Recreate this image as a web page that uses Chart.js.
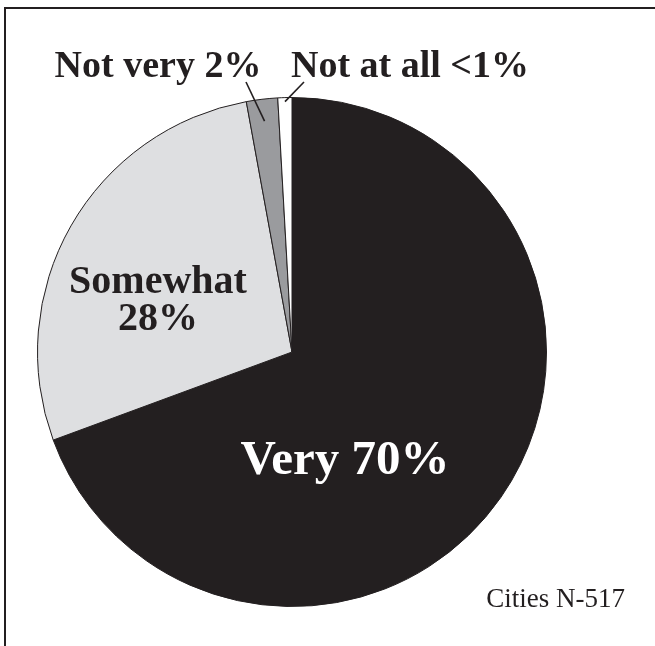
<!DOCTYPE html>
<html>
<head>
<meta charset="utf-8">
<script src="https://cdn.jsdelivr.net/npm/chart.js@4"></script>
<style>
  html, body { margin: 0; padding: 0; background: #fff; }
  canvas { display: block; }
</style>
</head>
<body>
<canvas id="cityPie" width="655" height="646"></canvas>
<script>
// Survey answers, clockwise from 12 o'clock
const answers = ['Very', 'Somewhat', 'Not very', 'Not at all'];
const shares = [70, 28, 2, 0.9];
const shareText = ['70%', '28%', '2%', '<1%'];
const sliceColors = ['#231f20', '#dedfe1', '#9a9b9e', '#ffffff'];
const sampleNote = 'Cities N-517';

const ink = '#231f20';
const boldSerif = 'bold {size}px "Liberation Serif", "Times New Roman", serif';

// frame, slice labels and leader lines
const annotate = {
  id: 'annotate',
  afterDraw(chart) {
    const ctx = chart.ctx;
    const arcs = chart.getDatasetMeta(0).data;
    ctx.save();

    // open frame: top and left rules only
    ctx.strokeStyle = ink;
    ctx.lineWidth = 2;
    ctx.beginPath();
    ctx.moveTo(5, 646);
    ctx.lineTo(5, 8);
    ctx.lineTo(655, 8);
    ctx.stroke();

    ctx.textAlign = 'center';
    ctx.textBaseline = 'alphabetic';

    // big label inside the dark slice
    ctx.fillStyle = '#ffffff';
    ctx.font = boldSerif.replace('{size}', 49);
    ctx.fillText(answers[0] + ' ' + shareText[0], 345, 474);

    // two-line label on the light slice
    ctx.fillStyle = ink;
    ctx.font = boldSerif.replace('{size}', 40);
    ctx.fillText(answers[1], 158, 293);
    ctx.fillText(shareText[1], 158, 330);

    // small slices get labels above the pie with leader lines
    ctx.font = boldSerif.replace('{size}', 38);
    ctx.fillText(answers[2] + ' ' + shareText[2], 158, 77);
    ctx.fillText(answers[3] + ' ' + shareText[3], 410, 77);

    const leaders = [
      { idx: 2, from: [246, 82], depth: 22 },
      { idx: 3, from: [304, 82], depth: 4 }
    ];
    ctx.strokeStyle = ink;
    ctx.lineWidth = 1.6;
    leaders.forEach(l => {
      const arc = arcs[l.idx];
      const mid = (arc.startAngle + arc.endAngle) / 2;
      const r = arc.outerRadius - l.depth;
      ctx.beginPath();
      ctx.moveTo(l.from[0], l.from[1]);
      ctx.lineTo(arc.x + Math.cos(mid) * r, arc.y + Math.sin(mid) * r);
      ctx.stroke();
    });

    // sample size note
    ctx.font = '27px "Liberation Serif", "Times New Roman", serif';
    ctx.textAlign = 'right';
    ctx.fillText(sampleNote, 625, 607);

    ctx.restore();
  }
};

new Chart(document.getElementById('cityPie'), {
  type: 'pie',
  data: {
    labels: answers,
    datasets: [{
      data: shares,
      backgroundColor: sliceColors,
      borderColor: ink,
      borderWidth: 1
    }]
  },
  options: {
    responsive: false,
    devicePixelRatio: 1,
    animation: false,
    layout: {
      padding: { left: 37, right: 108, top: 97, bottom: 39 }
    },
    plugins: {
      legend: { display: false },
      tooltip: { enabled: false }
    }
  },
  plugins: [annotate]
});
</script>
</body>
</html>
